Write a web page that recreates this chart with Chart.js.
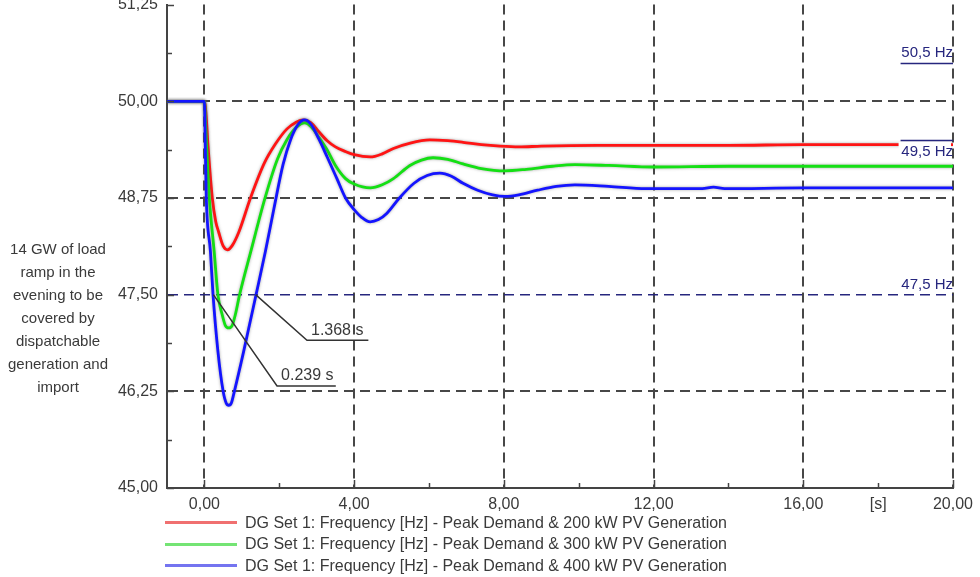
<!DOCTYPE html>
<html>
<head>
<meta charset="utf-8">
<script src="https://cdn.jsdelivr.net/npm/chart.js@4.4.1/dist/chart.umd.min.js"></script>
<style>
  html, body { margin: 0; padding: 0; background: #fff; }
  body { width: 980px; height: 577px; overflow: hidden; position: relative; font-family: "Liberation Sans", Arial, sans-serif; color: #3a3a3a; }
  #wrap { position: absolute; left: 0; top: -14px; width: 980px; height: 532px; }
  #yTitle { position: absolute; left: 0; top: 237px; width: 116px; text-align: center; font-size: 15px; line-height: 23px; }
  #legend { position: absolute; left: 165px; top: 512px; }
  .item { height: 21.5px; display: flex; align-items: center; font-size: 16px; white-space: nowrap; }
  .item i { display: inline-block; width: 72px; height: 3px; margin-right: 8px; }
</style>
</head>
<body>
<div id="wrap"><canvas id="chart" width="980" height="532"></canvas></div>
<div id="yTitle">14 GW of load<br>ramp in the<br>evening to be<br>covered by<br>dispatchable<br>generation and<br>import</div>
<div id="legend"></div>
<script>
const seriesLabels = [
  "DG Set 1: Frequency [Hz] - Peak Demand & 200 kW PV Generation",
  "DG Set 1: Frequency [Hz] - Peak Demand & 300 kW PV Generation",
  "DG Set 1: Frequency [Hz] - Peak Demand & 400 kW PV Generation"
];
const lineColors = ["#ff1414", "#14e014", "#1414ff"];
const legendColors = ["#f07070", "#74e474", "#7474f0"];

const timeRed = [-1, 0, 0.04, 0.1, 0.21, 0.3, 0.38, 0.5, 0.62, 0.75, 0.92, 1.23, 1.6, 1.9, 2.2, 2.45, 2.65, 2.85, 3.05, 3.28, 3.5, 3.77, 4.0, 4.43, 4.75, 5.05, 5.5, 6.02, 6.5, 6.91, 7.4, 7.9, 8.4, 9.0, 10.5, 12, 14, 16, 18, 20];
const freqRed = [50, 50, 49.85, 49.4, 48.75, 48.45, 48.31, 48.13, 48.08, 48.14, 48.31, 48.75, 49.2, 49.45, 49.64, 49.73, 49.76, 49.72, 49.61, 49.49, 49.41, 49.35, 49.31, 49.28, 49.32, 49.39, 49.46, 49.5, 49.49, 49.47, 49.44, 49.42, 49.41, 49.42, 49.43, 49.43, 49.43, 49.44, 49.44, 49.44];

const timeGreen = [-1, 0, 0.03, 0.07, 0.13, 0.26, 0.36, 0.47, 0.56, 0.65, 0.74, 0.83, 0.94, 1.24, 1.62, 1.95, 2.2, 2.45, 2.68, 2.85, 3.05, 3.28, 3.5, 3.77, 4.0, 4.43, 4.75, 5.05, 5.49, 5.8, 6.11, 6.5, 6.91, 7.4, 8.03, 8.6, 9.3, 9.9, 10.8, 12, 14, 16, 18, 20];
const freqGreen = [50, 50, 49.7, 49.3, 48.75, 48.06, 47.5, 47.25, 47.1, 47.07, 47.1, 47.25, 47.5, 48.06, 48.75, 49.25, 49.5, 49.66, 49.72, 49.67, 49.54, 49.37, 49.17, 49.0, 48.93, 48.88, 48.92, 49.0, 49.17, 49.24, 49.27, 49.25, 49.19, 49.13, 49.1, 49.12, 49.16, 49.18, 49.17, 49.15, 49.16, 49.16, 49.16, 49.16];

const timeBlue = [-1, 0, 0.02, 0.05, 0.16, 0.23, 0.36, 0.5, 0.58, 0.65, 0.72, 0.8, 1.05, 1.38, 1.63, 1.86, 2.1, 2.3, 2.5, 2.68, 2.85, 3.05, 3.28, 3.54, 3.77, 4.0, 4.2, 4.43, 4.65, 4.87, 5.21, 5.6, 5.95, 6.29, 6.6, 6.91, 7.3, 7.7, 8.03, 8.4, 8.9, 9.4, 9.9, 10.8, 11.8, 13.3, 13.6, 13.9, 16, 20];
const freqBlue = [50, 50, 49.5, 48.75, 48.06, 47.5, 46.77, 46.25, 46.1, 46.07, 46.1, 46.25, 46.77, 47.5, 48.06, 48.62, 49.18, 49.5, 49.7, 49.76, 49.7, 49.52, 49.28, 49.0, 48.75, 48.6, 48.5, 48.44, 48.47, 48.55, 48.75, 48.94, 49.04, 49.07, 49.03, 48.94, 48.85, 48.79, 48.77, 48.79, 48.85, 48.9, 48.92, 48.9, 48.87, 48.87, 48.89, 48.87, 48.88, 48.88];

const xTickValues = [0, 2, 4, 6, 8, 10, 12, 14, 16, 18, 20];
const yTickValues = [45, 45.625, 46.25, 46.875, 47.5, 48.125, 48.75, 49.375, 50, 50.625, 51.25];
const unitLabel = "[s]";

const limitValues = [50.5, 49.5, 47.5];
const limitLabels = ["50,5 Hz", "49,5 Hz", "47,5 Hz"];

const crossTimes = [1.368, 0.239];
const crossLabels = ["1.368 s", "0.239 s"];

const fmtComma = (v) => v.toFixed(2).replace(".", ",");
const isMajorY = (v) => Math.abs(v / 1.25 - Math.round(v / 1.25)) < 1e-6;
const isMajorX = (v) => v % 4 === 0;

const toPoints = (ts, fs) => ts.map((t, i) => ({ x: t, y: fs[i] }));

const FONT = "\"Liberation Sans\", Arial, sans-serif";
const NAVY = "#26267e";
const GRID = "#474747";

// callouts: leader from the crossing to an elbow, then an underline under the text
const callouts = [
  { t: crossTimes[0], text: crossLabels[0], elbow: [2.74, 46.91], end: 4.38 },
  { t: crossTimes[1], text: crossLabels[1], elbow: [1.94, 46.32], end: 3.51 }
];

const overlay = {
  id: "overlay",
  beforeDatasetDraw(chart) {
    const c = chart.ctx;
    c.save();
    c.shadowColor = "rgba(90, 90, 90, 0.55)";
    c.shadowBlur = 3;
  },
  afterDatasetDraw(chart) {
    chart.ctx.restore();
  },
  afterDatasetsDraw(chart) {
    const { ctx, chartArea: area, scales: { x, y } } = chart;
    const seg = (x1, y1, x2, y2) => {
      ctx.beginPath();
      ctx.moveTo(x1, y1);
      ctx.lineTo(x2, y2);
      ctx.stroke();
    };
    ctx.save();

    // inward tick marks
    ctx.strokeStyle = "#444";
    ctx.lineWidth = 1.5;
    yTickValues.forEach((v) => {
      const py = Math.round(y.getPixelForValue(v)) + 0.5;
      seg(area.left, py, area.left + (isMajorY(v) ? 7 : 5), py);
    });
    xTickValues.forEach((v) => {
      const px = Math.round(x.getPixelForValue(v)) + 0.5;
      seg(px, area.bottom, px, area.bottom - (isMajorX(v) ? 8 : 5));
    });

    // frequency limits
    const segStart = x.getPixelForValue(18.6);
    ctx.font = `15px ${FONT}`;
    ctx.textAlign = "right";
    ctx.fillStyle = NAVY;
    ctx.strokeStyle = NAVY;
    ctx.lineWidth = 1.5;
    limitValues.forEach((v, i) => {
      const py = Math.round(y.getPixelForValue(v)) + 0.5;
      if (i < 2) seg(segStart, py, area.right, py);
      if (i === 1) {
        ctx.fillStyle = "#fff";
        ctx.fillRect(segStart - 2, py + 1.5, area.right - segStart, 18);
        ctx.fillStyle = NAVY;
        ctx.textBaseline = "top";
        ctx.fillText(limitLabels[i], area.right, py + 4);
      } else {
        ctx.textBaseline = "bottom";
        ctx.fillText(limitLabels[i], area.right, py - 3);
      }
    });

    // crossing callouts
    ctx.strokeStyle = "#333";
    ctx.fillStyle = "#3a3a3a";
    ctx.lineWidth = 1.5;
    ctx.font = `16px ${FONT}`;
    ctx.textAlign = "left";
    ctx.textBaseline = "bottom";
    callouts.forEach((c) => {
      const p0x = x.getPixelForValue(c.t);
      const p0y = y.getPixelForValue(47.5);
      const ex = x.getPixelForValue(c.elbow[0]);
      const ey = y.getPixelForValue(c.elbow[1]);
      const endX = x.getPixelForValue(c.end);
      ctx.beginPath();
      ctx.moveTo(p0x, p0y);
      ctx.lineTo(ex, ey);
      ctx.lineTo(endX, ey);
      ctx.stroke();
      ctx.fillText(c.text, ex + 4, ey - 2);
    });

    ctx.restore();
  }
};

const gridColorY = (ctx) => {
  const v = ctx.tick ? ctx.tick.value : null;
  if (v === null) return "transparent";
  if (Math.abs(v - 47.5) < 1e-6) return NAVY;
  if (v > 45.1 && v < 51.2 && isMajorY(v)) return GRID;
  return "transparent";
};

const gridColorX = (ctx) => {
  const v = ctx.tick ? ctx.tick.value : null;
  return v !== null && isMajorX(v) ? GRID : "transparent";
};

Chart.defaults.font.family = FONT;

new Chart(document.querySelector("#chart"), {
  type: "line",
  data: {
    datasets: [
      { label: seriesLabels[0], data: toPoints(timeRed, freqRed), borderColor: lineColors[0], order: 3 },
      { label: seriesLabels[1], data: toPoints(timeGreen, freqGreen), borderColor: lineColors[1], order: 2 },
      { label: seriesLabels[2], data: toPoints(timeBlue, freqBlue), borderColor: lineColors[2], order: 1 }
    ].map((ds) => ({ ...ds, borderWidth: 2.8, pointRadius: 0, fill: false, cubicInterpolationMode: "monotone" }))
  },
  options: {
    responsive: false,
    animation: false,
    devicePixelRatio: 1,
    layout: { padding: { top: 16, right: 23, left: 0, bottom: 0 } },
    plugins: { legend: { display: false }, tooltip: { enabled: false } },
    scales: {
      x: {
        type: "linear",
        min: -1,
        max: 20,
        afterBuildTicks: (s) => { s.ticks = xTickValues.map((v) => ({ value: v })); },
        afterFit: (s) => { s.height = 30; },
        ticks: {
          autoSkip: false,
          maxRotation: 0,
          padding: 7,
          color: "#3a3a3a",
          font: { size: 16 },
          callback: (v) => (v === 18 ? unitLabel : isMajorX(v) ? fmtComma(v) : "")
        },
        grid: { color: gridColorX, lineWidth: 2, drawTicks: false },
        border: { display: true, color: "#444", width: 2, dash: [10, 6] }
      },
      y: {
        min: 45,
        max: 51.25,
        afterBuildTicks: (s) => { s.ticks = yTickValues.map((v) => ({ value: v })); },
        afterFit: (s) => { s.width = 167; },
        ticks: {
          autoSkip: false,
          padding: 9,
          color: "#3a3a3a",
          font: { size: 16 },
          callback: (v) => (isMajorY(v) ? fmtComma(v) : "")
        },
        grid: { color: gridColorY, lineWidth: (ctx) => (ctx.tick && Math.abs(ctx.tick.value - 47.5) < 1e-6 ? 1.5 : 2), drawTicks: false },
        border: { display: true, color: "#444", width: 2, dash: [10, 6] }
      }
    }
  },
  plugins: [overlay]
});

document.querySelector("#legend").innerHTML = seriesLabels
  .map((label, i) => `<div class="item"><i style="background:${legendColors[i]}"></i><span>${label.replace("&", "&amp;")}</span></div>`)
  .join("");
</script>
</body>
</html>
